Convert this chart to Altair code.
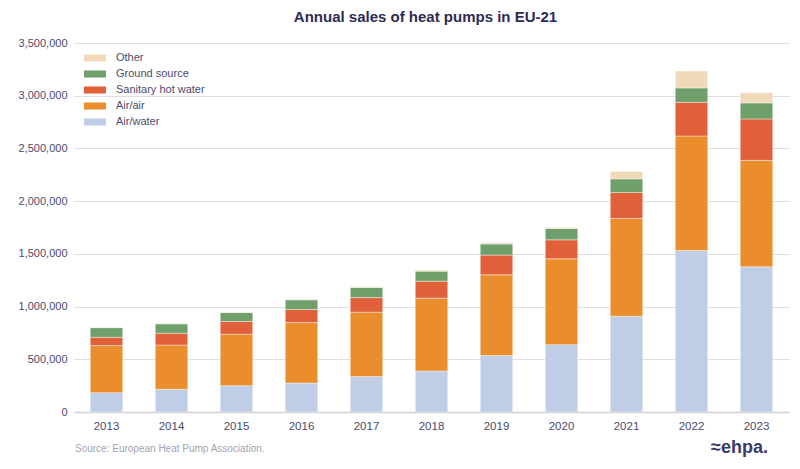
import altair as alt
import pandas as pd

years = ["2013", "2014", "2015", "2016", "2017", "2018", "2019", "2020", "2021", "2022", "2023"]
air_water = [183000, 215000, 250000, 275000, 336000, 389000, 535000, 639000, 909000, 1532000, 1377000]
air_air = [447000, 421000, 488000, 573000, 611000, 691000, 766000, 814000, 927000, 1086000, 1010000]
sanitary = [79000, 111000, 120000, 124000, 138000, 161000, 187000, 180000, 247000, 319000, 393000]
ground = [91000, 89000, 85000, 92000, 96000, 95000, 105000, 108000, 128000, 137000, 152000]
other = [3000, 3000, 6000, 4000, 8000, 12000, 12000, 9000, 71000, 161000, 95000]

series_names = ["Air/water", "Air/air", "Sanitary hot water", "Ground source", "Other"]
series_values = [air_water, air_air, sanitary, ground, other]
series_colors = ["#bfcde6", "#e98d2d", "#e0603a", "#6f9f6a", "#f0d9b8"]

rows = []
for i, (name, vals) in enumerate(zip(series_names, series_values)):
    for y, v in zip(years, vals):
        rows.append({"year": y, "type": name, "sales": v, "stack": i})
df = pd.DataFrame(rows)

legend_order = list(reversed(series_names))
legend_colors = list(reversed(series_colors))

title_text = "Annual sales of heat pumps in EU-21"
source_text = "Source: European Heat Pump Association."
logo_text = "≈ehpa."

label_color = "#4b4a6b"

bars = alt.Chart(df).mark_bar(stroke="white", strokeWidth=0.4).encode(
    x=alt.X("year:N", title=None, sort=years,
            scale=alt.Scale(paddingInner=0.5, paddingOuter=0.25),
            axis=alt.Axis(labelAngle=0, labelFontSize=11.5, labelColor=label_color,
                          labelFont="Liberation Sans", labelPadding=8, ticks=False,
                          domainColor="#d0d0d0", domainWidth=1.5, grid=False)),
    y=alt.Y("sales:Q", title=None, stack="zero",
            scale=alt.Scale(domain=[0, 3500000], nice=False),
            axis=alt.Axis(format=",d", values=[0, 500000, 1000000, 1500000, 2000000, 2500000, 3000000, 3500000],
                          labelFontSize=11, labelColor=label_color, labelFont="Liberation Sans",
                          labelPadding=7, ticks=False, domain=False,
                          gridColor="#dedede", gridWidth=1)),
    color=alt.Color("type:N",
                    scale=alt.Scale(domain=legend_order, range=legend_colors),
                    legend=alt.Legend(title=None, orient="none", legendX=10, legendY=4,
                                      symbolType="M-1,-0.32H1V0.32H-1Z", symbolSize=484,
                                      symbolStrokeWidth=0, symbolOpacity=1,
                                      labelFontSize=11, labelColor=label_color,
                                      labelFont="Liberation Sans", labelOffset=10,
                                      rowPadding=0, padding=0)),
    order=alt.Order("stack:Q", sort="ascending"),
)

source = alt.Chart(pd.DataFrame({"t": [source_text]})).mark_text(
    align="left", baseline="middle", fontSize=10, color="#a3a3ad", font="Liberation Sans"
).encode(text="t:N", x=alt.value(1), y=alt.value(406))

logo = alt.Chart(pd.DataFrame({"t": [logo_text]})).mark_text(
    align="right", baseline="middle", fontSize=18, fontWeight="bold", color="#3a3a6a", font="Liberation Sans"
).encode(text="t:N", x=alt.value(694), y=alt.value(405))

chart = alt.layer(bars, source, logo).properties(
    width=715, height=369,
    autosize=alt.AutoSizeParams(type="none"),
    padding={"left": 66, "top": 35, "right": 3, "bottom": 49},
    title=alt.TitleParams(title_text, anchor="middle", fontSize=15, fontWeight="bold",
                          color="#2d2b55", font="Liberation Sans", dx=-6, offset=12),
).configure_view(stroke=None)

chart.save("out.html", embed_options={"renderer": "svg", "actions": False})
